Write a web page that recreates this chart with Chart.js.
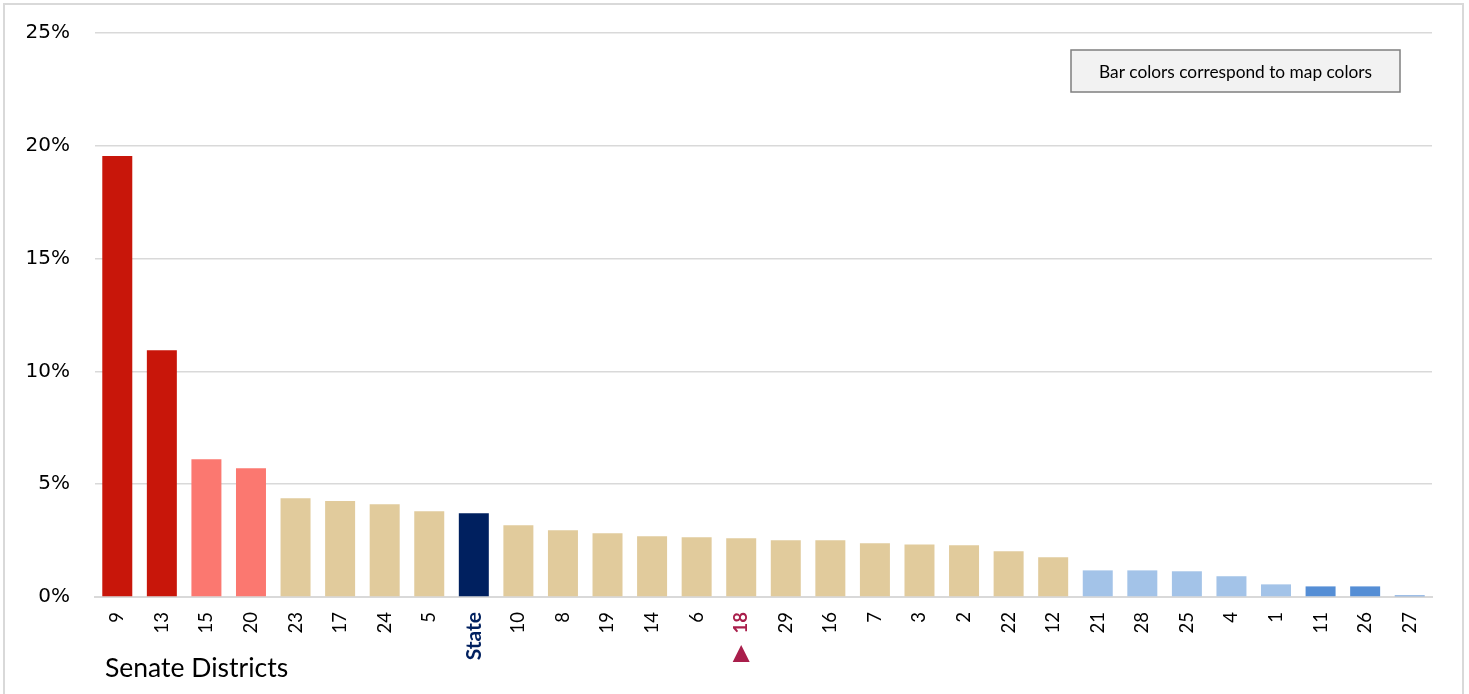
<!DOCTYPE html>
<html>
<head>
<meta charset="utf-8">
<script src="https://cdn.jsdelivr.net/npm/chart.js@4"></script>
<style>
  html, body { margin: 0; padding: 0; background: #fff; overflow: hidden; }
  .wrap { position: relative; width: 1469px; height: 694px; }
  .frame {
    position: absolute; left: 3px; top: 3px; width: 1457px; height: 720px;
    border: 2px solid #d9d9d9; pointer-events: none;
  }
</style>
</head>
<body>
<div class="wrap">
  <canvas id="districtChart"></canvas>
  <div class="frame"></div>
</div>
<script>
// senate district shares (%) sorted high to low, state average included
const districts = ["9", "13", "15", "20", "23", "17", "24", "5", "State", "10", "8", "19", "14", "6", "18",
  "29", "16", "7", "3", "2", "22", "12", "21", "28", "25", "4", "1", "11", "26", "27"];
const shares = [19.55, 10.94, 6.11, 5.71, 4.38, 4.25, 4.11, 3.80, 3.71, 3.18, 2.96, 2.83, 2.69, 2.65, 2.60,
  2.51, 2.51, 2.38, 2.33, 2.29, 2.03, 1.76, 1.18, 1.18, 1.14, 0.92, 0.56, 0.47, 0.47, 0.07];
const tiers = ["high", "high", "elevated", "elevated", "mid", "mid", "mid", "mid", "state", "mid", "mid", "mid", "mid", "mid", "mid",
  "mid", "mid", "mid", "mid", "mid", "mid", "mid", "low", "low", "low", "low", "low", "lowest", "lowest", "lowest"];
const yTicks = [0, 5, 10, 15, 20, 25];
const highlighted = "18";
const axisTitle = "Senate Districts";
const noteText = "Bar colors correspond to map colors";

const tierColors = {
  high: "#c8160a",
  elevated: "#fb7870",
  mid: "#e1cb9c",
  state: "#00205f",
  low: "#a3c3e8",
  lowest: "#558ed5",
};

const extrasPlugin = {
  id: "extras",
  afterDraw(chart) {
    const ctx = chart.ctx;
    const x = chart.scales.x;

    // note box
    ctx.save();
    ctx.fillStyle = "#f2f2f2";
    ctx.strokeStyle = "#7f7f7f";
    ctx.lineWidth = 1.5;
    ctx.fillRect(1071, 50, 329, 42);
    ctx.strokeRect(1071, 50, 329, 42);
    ctx.fillStyle = "#000";
    ctx.font = "17.3px Lato";
    ctx.textAlign = "center";
    ctx.textBaseline = "middle";
    ctx.fillText(noteText, 1235.5, 72);

    // marker under highlighted district
    const idx = districts.indexOf(highlighted);
    const cx = x.getPixelForValue(idx);
    ctx.fillStyle = "#a91e4b";
    ctx.beginPath();
    ctx.moveTo(cx, 645);
    ctx.lineTo(cx + 8.5, 662);
    ctx.lineTo(cx - 8.5, 662);
    ctx.closePath();
    ctx.fill();

    // axis title
    ctx.fillStyle = "#000";
    ctx.font = "26.5px Lato";
    ctx.textAlign = "left";
    ctx.textBaseline = "middle";
    ctx.fillText(axisTitle, 105, 668);
    ctx.restore();
  },
};

new Chart(document.getElementById("districtChart"), {
  type: "bar",
  data: {
    labels: districts,
    datasets: [
      {
        label: "Share",
        data: shares,
        backgroundColor: tiers.map(t => tierColors[t]),
        barPercentage: 0.673,
        categoryPercentage: 1,
      },
    ],
  },
  options: {
    responsive: true,
    maintainAspectRatio: false,
    animation: false,
    layout: {
      padding: { top: 33, right: 37, bottom: 0, left: 0 },
    },
    plugins: {
      legend: { display: false },
      tooltip: { enabled: false },
    },
    scales: {
      x: {
        afterFit(scale) {
          scale.height = 97;
        },
        grid: { display: false, drawTicks: false },
        border: { color: "#d9d9d9", width: 2 },
        ticks: {
          autoSkip: false,
          minRotation: 90,
          maxRotation: 90,
          padding: 15,
          color(ctx) {
            const lbl = districts[ctx.index];
            if (lbl === "State") return "#00205f";
            if (lbl === highlighted) return "#a91e4b";
            return "#000";
          },
          font(ctx) {
            const lbl = districts[ctx.index];
            if (lbl === "State") return { family: "Lato", size: 21, weight: "bold" };
            if (lbl === highlighted) return { family: "Lato", size: 18.5, weight: "bold" };
            return { family: "Lato", size: 18.5 };
          },
        },
      },
      y: {
        min: 0,
        max: 25,
        afterFit(scale) {
          scale.width = 95;
          scale.paddingTop = 0;
          scale.paddingBottom = 0;
        },
        afterBuildTicks(scale) {
          scale.ticks = yTicks.map(v => ({ value: v }));
        },
        grid: {
          color: "#d9d9d9",
          lineWidth: 1.5,
          drawTicks: false,
        },
        border: { display: false },
        ticks: {
          padding: 25,
          color: "#000",
          font: { family: "DejaVu Sans", size: 20 },
          callback: v => v + "%",
        },
      },
    },
  },
  plugins: [extrasPlugin],
});
</script>
</body>
</html>
